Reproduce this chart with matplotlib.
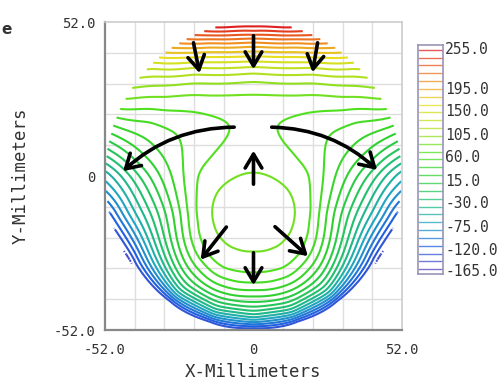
import numpy as np
import matplotlib
matplotlib.use("Agg")
import matplotlib.pyplot as plt
from matplotlib.colors import LinearSegmentedColormap, Normalize
from matplotlib.patches import FancyArrowPatch

# ---------------- data ----------------
R = 52.0   # aperture radius, mm
contour_levels = [-165, -150, -135, -120, -105, -90, -75, -60, -45, -30, -15, 0,
                  15, 30, 45, 60, 75, 90, 105, 120, 135, 150, 165, 180, 195,
                  210, 225, 240, 255]
legend_labels = ["255.0", "195.0", "150.0", "105.0", "60.0", "15.0",
                 "-30.0", "-75.0", "-120.0", "-165.0"]

# (x/R, y/R, level) points: centre line and left half
anchors = [
    # centre line
    (0, 1.0, 265), (0, 0.966, 255), (0, 0.937, 240), (0, 0.916, 225), (0, 0.894, 210),
    (0, 0.872, 195), (0, 0.84, 180), (0, 0.807, 165), (0, 0.775, 150), (0, 0.742, 135),
    (0, 0.71, 120), (0, 0.667, 105), (0, 0.612, 90), (0, 0.526, 75), (0, 0.45, 67),
    (0, 0.35, 63), (0, 0.2, 67), (0, 0.1, 71), (0, 0.02, 75), (0, -0.23, 84),
    (0, -0.48, 75), (0, -0.63, 60), (0, -0.69, 45), (0, -0.74, 30), (0, -0.78, 15),
    (0, -0.815, 0), (0, -0.847, -15), (0, -0.875, -30), (0, -0.9, -45), (0, -0.92, -60),
    (0, -0.938, -75), (0, -0.953, -90), (0, -0.966, -105), (0, -0.977, -120),
    (0, -0.987, -135), (0, -0.995, -150), (0, -1.0, -155),
    # upper arcs
    (-0.2, 0.963, 255), (-0.25, 0.935, 240), (-0.3, 0.91, 225),
    (-0.25, 0.89, 210), (-0.4, 0.885, 210), (-0.3, 0.866, 195), (-0.45, 0.86, 195),
    (-0.3, 0.835, 180), (-0.5, 0.83, 180), (-0.35, 0.8, 165), (-0.56, 0.8, 165),
    (-0.4, 0.77, 150), (-0.6, 0.765, 150), (-0.4, 0.738, 135), (-0.65, 0.735, 135),
    (-0.4, 0.705, 120), (-0.68, 0.7, 120), (-0.4, 0.66, 105), (-0.75, 0.64, 105),
    (-0.4, 0.6, 90), (-0.8, 0.575, 90),
    (-0.3, 0.52, 75), (-0.6, 0.51, 75), (-0.85, 0.5, 75),
    # inner closed contour
    (-0.28, -0.234, 75), (-0.198, -0.06, 75), (-0.198, -0.41, 75),
    (-0.26, -0.141, 75), (-0.26, -0.327, 75), (-0.12, -0.008, 75), (-0.12, -0.46, 75),
    # contour through the neck
    (-0.16, 0.33, 60), (-0.205, 0.214, 60), (-0.3, 0.1, 60), (-0.38, 0.0, 60),
    (-0.39, -0.22, 60), (-0.37, -0.37, 60), (-0.31, -0.51, 60), (-0.2, -0.6, 60),
    (-0.36, 0.41, 60), (-0.6, 0.425, 60), (-0.9, 0.43, 60), (-0.35, 0.33, 55),
    # U-shaped contours
    (-0.9, 0.377, 45), (-0.7, 0.355, 45), (-0.52, 0.28, 45), (-0.48, 0.15, 45),
    (-0.47, 0.0, 45), (-0.44, -0.25, 45), (-0.324, -0.574, 45), (-0.172, -0.666, 45),
    (-0.92, 0.318, 30), (-0.65, 0.17, 30), (-0.55, 0.0, 30), (-0.49, -0.25, 30),
    (-0.363, -0.613, 30),
    (-0.935, 0.266, 15), (-0.73, 0.13, 15), (-0.63, 0.0, 15), (-0.54, -0.25, 15),
    (-0.395, -0.645, 15),
    (-0.947, 0.214, 0), (-0.8, 0.1, 0), (-0.70, 0.0, 0), (-0.59, -0.25, 0),
    (-0.423, -0.673, 0), (-0.222, -0.786, 0),
    (-0.958, 0.156, -15), (-0.77, 0.0, -15), (-0.64, -0.25, -15), (-0.449, -0.699, -15),
    (-0.963, 0.117, -30), (-0.83, 0.0, -30), (-0.69, -0.25, -30), (-0.471, -0.721, -30),
    (-0.965, 0.058, -45), (-0.89, 0.0, -45), (-0.74, -0.25, -45), (-0.491, -0.741, -45),
    (-0.257, -0.869, -45),
    (-0.985, 0.03, -60), (-0.95, 0.0, -60), (-0.79, -0.25, -60), (-0.507, -0.757, -60),
    (-0.987, -0.05, -75), (-0.84, -0.25, -75), (-0.521, -0.771, -75),
    (-0.984, -0.11, -90), (-0.88, -0.25, -90), (-0.533, -0.783, -90), (-0.28, -0.924, -90),
    (-0.975, -0.17, -105), (-0.92, -0.25, -105), (-0.544, -0.794, -105),
    (-0.96, -0.24, -120), (-0.553, -0.803, -120),
    (-0.93, -0.35, -135), (-0.8, -0.57, -135), (-0.561, -0.811, -135), (-0.287, -0.943, -135),
    (-0.82, -0.55, -150), (-0.567, -0.817, -150), (-0.3, -0.948, -150),
]
anchor_u = [a[0] for a in anchors]
anchor_v = [a[1] for a in anchors]
anchor_level = [a[2] for a in anchors]

# arrows (mm): start, end, curvature
arrow_x0 = [-21.2, 0.0, 22.6, -5.8, 5.4, 0.0, -8.9, 0.0, 6.8]
arrow_y0 = [45.9, 48.3, 45.9, 16.5, 16.5, -3.7, -16.5, -25.0, -16.5]
arrow_x1 = [-18.7, 0.0, 20.5, -46.4, 44.0, 0.0, -19.1, 0.0, 19.8]
arrow_y1 = [33.8, 35.1, 34.1, 1.0, 1.4, 9.5, -29.0, -37.8, -27.7]
arrow_rad = [0, 0, 0, 0.2, -0.2, 0, 0, 0, 0]

# colour stops of the level colour scale
stop_levels = [-165, -120, -75, -30, 15, 60, 105, 150, 195, 255]
stop_colors = ["#5040c0", "#2060e0", "#20a8c0", "#20c070", "#30d030",
               "#50e020", "#b0e020", "#e8e020", "#f09020", "#e02020"]

# ---------------- smooth surface through the read points (thin-plate spline) ----------------
au = np.array(anchor_u, float)
av = np.array(anchor_v, float)
al = np.array(anchor_level, float)
mir = au != 0
pu = np.concatenate([au, -au[mir]])
pv = np.concatenate([av, av[mir]])
pl = np.concatenate([al, al[mir]])


def phi(d):
    with np.errstate(divide="ignore", invalid="ignore"):
        out = d * d * np.log(d)
    return np.where(d > 0, out, 0.0)


N = len(pu)
K = phi(np.hypot(pu[:, None] - pu[None, :], pv[:, None] - pv[None, :]))
P = np.column_stack([np.ones(N), pu, pv])
M = np.zeros((N + 3, N + 3))
M[:N, :N] = K + 1e-2 * np.eye(N)
M[:N, N:] = P
M[N:, :N] = P.T
sol = np.linalg.solve(M, np.concatenate([pl, np.zeros(3)]))
w, a = sol[:N], sol[N:]

g = np.linspace(-R, R, 361)
X, Y = np.meshgrid(g, g)
U, V = X / R, Y / R
Z = a[0] + a[1] * U + a[2] * V
for wi, xi, yi in zip(w, pu, pv):
    Z = Z + wi * phi(np.hypot(U - xi, V - yi))
Z = np.ma.masked_where(X ** 2 + Y ** 2 > R ** 2, Z)

cmap = LinearSegmentedColormap.from_list(
    "lv", [((s - stop_levels[0]) / (stop_levels[-1] - stop_levels[0]), c)
           for s, c in zip(stop_levels, stop_colors)])
norm = Normalize(stop_levels[0], stop_levels[-1])
line_colors = [cmap(norm(l)) for l in contour_levels]

# ---------------- figure ----------------
fig = plt.figure(figsize=(5.0, 3.9), dpi=100)
ax = fig.add_axes([105 / 500, 1 - 330 / 390, 297 / 500, 308 / 390])
ax.set_xlim(-R, R)
ax.set_ylim(-R, R)

ax.set_xticks(np.linspace(-R, R, 11), minor=True)
ax.set_yticks(np.linspace(-R, R, 11), minor=True)
ax.grid(which="minor", color="#dedede", lw=1.0, zorder=0)
ax.set_xticks([-R, 0, R])
ax.set_xticklabels(["-52.0", "0", "52.0"])
ax.set_yticks([-R, 0, R])
ax.set_yticklabels(["-52.0", "0", "52.0"])
ax.tick_params(which="both", length=0)
ax.tick_params(axis="x", pad=9)
ax.tick_params(axis="y", pad=7)
mono = "DejaVu Sans Mono"
for lab in ax.get_xticklabels() + ax.get_yticklabels():
    lab.set_fontfamily(mono)
    lab.set_fontsize(10)
    lab.set_color("#333333")
ax.set_xlabel("X-Millimeters", fontfamily=mono, fontsize=12.5, color="#333333", labelpad=5)
ax.set_ylabel("Y-Millimeters", fontfamily=mono, fontsize=12.5, color="#333333")
ax.yaxis.set_label_coords(-0.255, 0.5)
for s in ["left", "bottom"]:
    ax.spines[s].set_color("#888888")
    ax.spines[s].set_linewidth(1.6)
for s in ["top", "right"]:
    ax.spines[s].set_color("#cccccc")
    ax.spines[s].set_linewidth(1.2)

ax.contour(X, Y, Z, levels=contour_levels, colors=line_colors, linewidths=1.5, zorder=2)

for x0, y0, x1, y1, r in zip(arrow_x0, arrow_y0, arrow_x1, arrow_y1, arrow_rad):
    ax.add_patch(FancyArrowPatch((x0, y0), (x1, y1),
                                 arrowstyle="->,head_length=0.5,head_width=0.3",
                                 mutation_scale=20, lw=2.6, color="black",
                                 connectionstyle=f"arc3,rad={r}", zorder=3))

# level legend
lax = fig.add_axes([418 / 500, 1 - 274 / 390, 25 / 500, 229 / 390])
n = len(contour_levels)
lax.set_xlim(0, 1)
lax.set_ylim(-0.6, n - 0.4)
for i, (lv, c) in enumerate(zip(contour_levels, line_colors)):
    lax.plot([0.05, 0.95], [i, i], color=c, lw=1.0, alpha=0.75)
lax.set_xticks([])
lax.set_yticks([])
for s in lax.spines.values():
    s.set_color("#9a94b8")
    s.set_linewidth(1.2)
label_pix = [49, 89, 112, 135, 158, 181, 204, 227, 250, 271]
for t, yp in zip(legend_labels, label_pix):
    fig.text(445 / 500, 1 - yp / 390, t, fontfamily=mono, fontsize=10.5,
             color="#333333", va="center", ha="left")

fig.text(0.002, 1 - 29 / 390, "e", fontsize=11, fontweight="bold", color="#333333",
         va="center", ha="left")

fig.savefig("out.png", dpi=100)
